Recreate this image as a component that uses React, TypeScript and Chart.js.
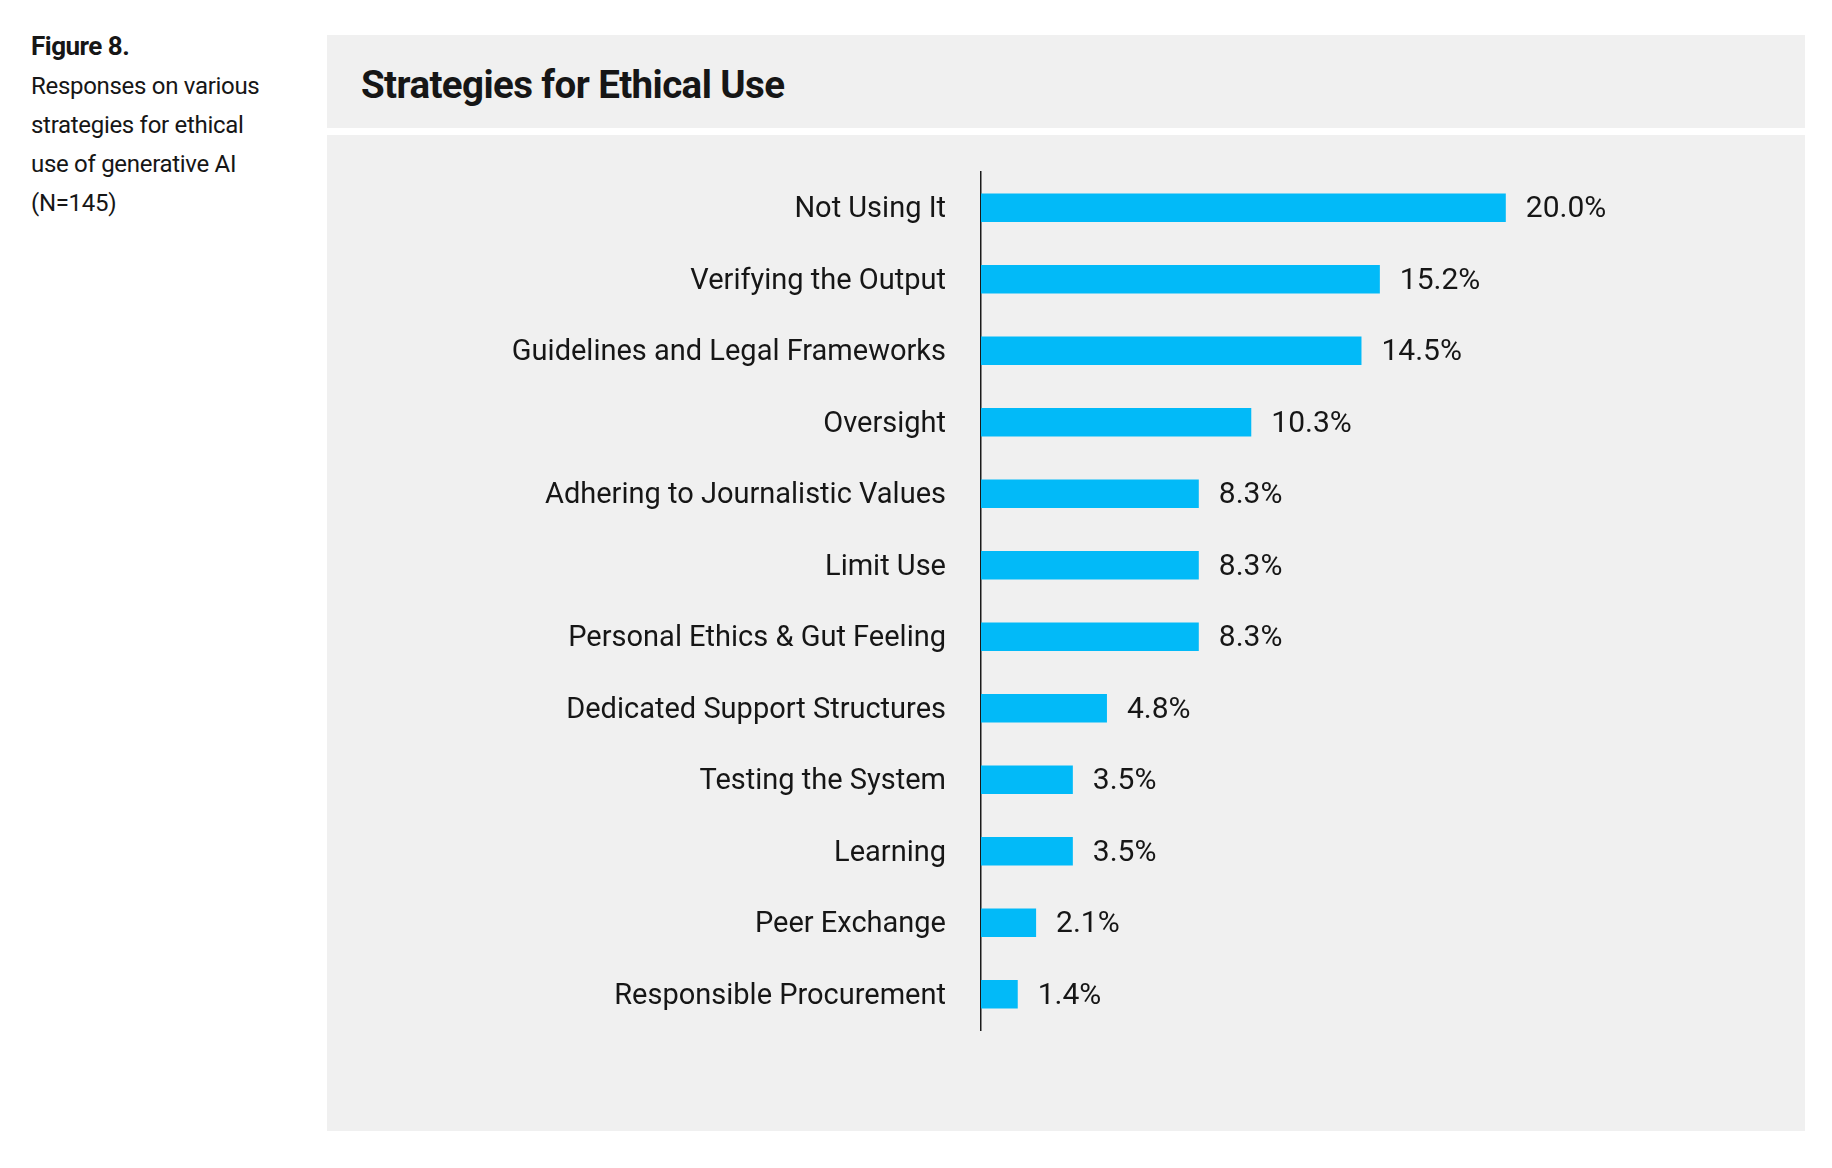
import React, { useEffect, useRef } from "react";
import { Chart, registerables } from "chart.js";

Chart.register(...registerables);

const categories = [
  "Not Using It",
  "Verifying the Output",
  "Guidelines and Legal Frameworks",
  "Oversight",
  "Adhering to Journalistic Values",
  "Limit Use",
  "Personal Ethics & Gut Feeling",
  "Dedicated Support Structures",
  "Testing the System",
  "Learning",
  "Peer Exchange",
  "Responsible Procurement",
];
const values = [20.0, 15.2, 14.5, 10.3, 8.3, 8.3, 8.3, 4.8, 3.5, 3.5, 2.1, 1.4];
const valueLabels = values.map((v) => v.toFixed(1) + "%");

const chartTitle = "Strategies for Ethical Use";
const figureLabel = "Figure 8.";
const captionLines = [
  "Responses on various",
  "strategies for ethical",
  "use of generative AI",
  "(N=145)",
];

const BAR_COLOR = "#02BAF8";
const PANEL_BG = "#F0F0F0";
const TEXT_COLOR = "#161616";
const FONT = "Roboto";

const valueLabelPlugin = {
  id: "valueLabels",
  afterDatasetsDraw(chart: any) {
    const ctx = chart.ctx;
    const meta = chart.getDatasetMeta(0);
    ctx.save();
    ctx.font = `30px ${FONT}`;
    ctx.fillStyle = TEXT_COLOR;
    ctx.textAlign = "left";
    ctx.textBaseline = "middle";
    meta.data.forEach((bar: any, i: number) => {
      ctx.fillText(valueLabels[i], bar.x + 20, bar.y + 2);
    });
    ctx.restore();
  },
};

export default function App() {
  const canvasRef = useRef<HTMLCanvasElement | null>(null);

  useEffect(() => {
    if (!canvasRef.current) return;
    const chart = new Chart(canvasRef.current, {
      type: "bar",
      data: {
        labels: categories,
        datasets: [
          {
            data: values,
            backgroundColor: BAR_COLOR,
            borderWidth: 0,
            barPercentage: 0.8,
            categoryPercentage: 0.5,
          },
        ],
      },
      options: {
        indexAxis: "y",
        animation: false,
        responsive: false,
        maintainAspectRatio: false,
        layout: { padding: { left: 0, top: 37, right: 168, bottom: 101 } },
        plugins: {
          legend: { display: false },
          tooltip: { enabled: false },
          title: { display: false },
        },
        scales: {
          x: {
            display: false,
            min: 0,
            max: 25,
          },
          y: {
            type: "category",
            grid: { display: false, drawTicks: false },
            border: { display: true, color: "#1a1a1a", width: 1.5 },
            ticks: {
              color: TEXT_COLOR,
              padding: 35,
              labelOffset: 2,
              font: { family: FONT, size: 29 },
            },
            afterFit: (scale: any) => {
              scale.width = 654;
              scale.paddingTop = 0;
              scale.paddingBottom = 0;
            },
          },
        },
      },
      plugins: [valueLabelPlugin],
    });
    return () => chart.destroy();
  }, []);

  return (
    <div style={{ fontFamily: FONT, color: TEXT_COLOR }}>
      <div style={{ position: "absolute", left: 31, top: 30 }}>
        <div style={{ fontWeight: 700, fontSize: 26, lineHeight: "33px", letterSpacing: -0.5 }}>
          {figureLabel}
        </div>
        <div style={{ marginTop: 4 }}>
          {captionLines.map((l, i) => (
            <div key={i} style={{ fontSize: 24, lineHeight: "39px", letterSpacing: -0.3 }}>
              {l}
            </div>
          ))}
        </div>
      </div>
      <div
        style={{
          position: "absolute",
          left: 327,
          top: 35,
          width: 1478,
          height: 93,
          background: PANEL_BG,
        }}
      >
        <div
          style={{
            position: "absolute",
            left: 34,
            top: 3,
            height: 93,
            lineHeight: "93px",
            fontWeight: 700,
            fontSize: 38.5,
            letterSpacing: -0.6,
          }}
        >
          {chartTitle}
        </div>
      </div>
      <div
        style={{
          position: "absolute",
          left: 327,
          top: 135,
          width: 1478,
          height: 996,
          background: PANEL_BG,
        }}
      >
        <canvas
          ref={canvasRef}
          width={1478}
          height={996}
          style={{ display: "block", width: 1478, height: 996 }}
        />
      </div>
    </div>
  );
}
